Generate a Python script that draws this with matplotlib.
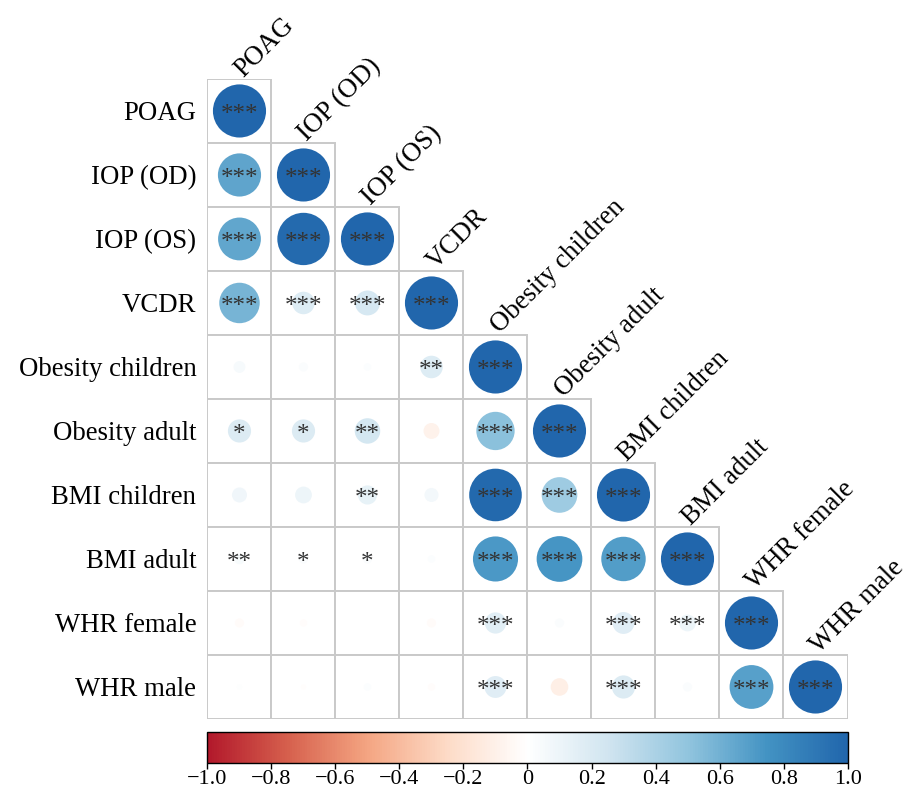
import numpy as np
import matplotlib
matplotlib.use("Agg")
import matplotlib.pyplot as plt
from matplotlib.colors import LinearSegmentedColormap, Normalize
from matplotlib.patches import Circle, Rectangle
from matplotlib.ticker import FuncFormatter

plt.rcParams['font.family'] = ['Liberation Serif', 'DejaVu Serif']

labels = ["POAG", "IOP (OD)", "IOP (OS)", "VCDR", "Obesity children",
          "Obesity adult", "BMI children", "BMI adult", "WHR female", "WHR male"]

# lower triangle of the correlation matrix, row by row (diagonal included)
corr_rows = [
    [1.00],
    [0.66, 1.00],
    [0.65, 0.97, 1.00],
    [0.58, 0.18, 0.22, 1.00],
    [0.05, 0.03, 0.02, 0.18, 1.00],
    [0.19, 0.19, 0.23, -0.09, 0.52, 1.00],
    [0.08, 0.10, 0.13, 0.07, 0.98, 0.45, 1.00],
    [0.04, 0.03, 0.03, 0.02, 0.72, 0.74, 0.70, 1.00],
    [-0.03, -0.02, 0.00, -0.03, 0.16, 0.03, 0.17, 0.10, 1.00],
    [0.01, -0.01, 0.02, -0.02, 0.17, -0.11, 0.19, 0.03, 0.68, 1.00],
]

stars_rows = [
    ["***"],
    ["***", "***"],
    ["***", "***", "***"],
    ["***", "***", "***", "***"],
    ["", "", "", "**", "***"],
    ["*", "*", "**", "", "***", "***"],
    ["", "", "**", "", "***", "***", "***"],
    ["**", "*", "*", "", "***", "***", "***", "***"],
    ["", "", "", "", "***", "", "***", "***", "***"],
    ["", "", "", "", "***", "", "***", "", "***", "***"],
]

cmap = LinearSegmentedColormap.from_list(
    "rdbu9", ["#b2182b", "#d6604d", "#f4a582", "#fddbc7", "#ffffff",
              "#d1e5f0", "#92c5de", "#4393c3", "#2166ac"])
norm = Normalize(-1, 1)

fig = plt.figure(figsize=(9.09, 7.92), dpi=100)
ax = fig.add_axes([0.2277, 0.0922, 0.7052, 0.8081])
n = len(labels)

for i, row in enumerate(corr_rows):
    for j, r in enumerate(row):
        ax.add_patch(Rectangle((j - 0.5, i - 0.5), 1, 1, facecolor='white',
                               edgecolor='#c9c9c9', lw=1.4, zorder=1))
        ax.add_patch(Circle((j, i), 0.415 * np.sqrt(abs(r)),
                            facecolor=cmap(norm(r)), edgecolor='none', zorder=2))
        s = stars_rows[i][j]
        if s:
            ax.text(j, i + 0.06, s, ha='center', va='center', fontsize=18,
                    color='#333333', zorder=3)

for j, name in enumerate(labels):
    ax.text(j + 0.06, j - 0.52, name, rotation=45, ha='left', va='baseline',
            rotation_mode='anchor', fontsize=19.3, color='black')

ax.set_xlim(-0.5, n - 0.5)
ax.set_ylim(n - 0.5, -0.5)
ax.set_aspect('equal')
ax.set_xticks([])
ax.set_yticks(range(n))
ax.set_yticklabels(labels, fontsize=19.3)
ax.tick_params(axis='y', length=0, pad=8)
for sp in ax.spines.values():
    sp.set_visible(False)

cax = fig.add_axes([0.2277, 0.0366, 0.7052, 0.039])
sm = plt.cm.ScalarMappable(norm=norm, cmap=cmap)
cb = fig.colorbar(sm, cax=cax, orientation='horizontal')
cb.set_ticks(np.linspace(-1, 1, 11))
cb.ax.xaxis.set_major_formatter(FuncFormatter(
    lambda v, p: '0' if abs(v) < 1e-9 else f'{v:.1f}'.replace('-', '\u2212')))
cb.ax.tick_params(labelsize=16, length=4, width=1, pad=1)
cb.outline.set_linewidth(1)

fig.savefig("out.png", dpi=100)
